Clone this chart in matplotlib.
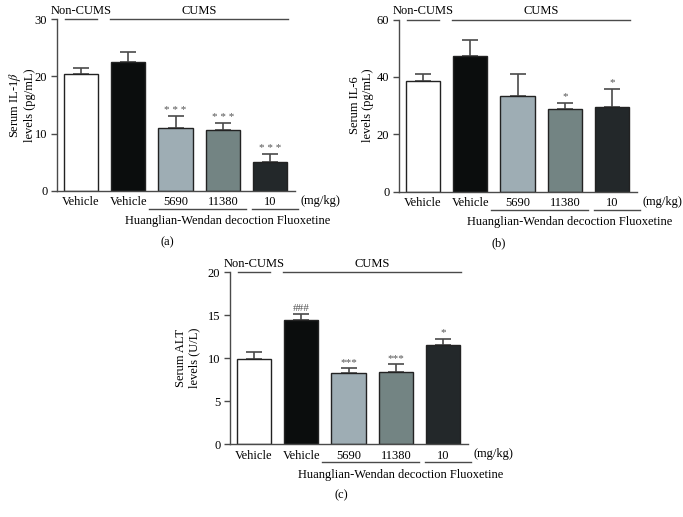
import numpy as np
import matplotlib.pyplot as plt

plt.rcParams["font.family"] = ["Liberation Serif", "DejaVu Serif"]
plt.rcParams["mathtext.fontset"] = "stix"

# ---------------------------------------------------------
# Data
# ---------------------------------------------------------
groups = ["Vehicle", "Vehicle", "5690", "11380", "10"]
bar_colors = ["#ffffff", "#0b0d0d", "#9eadb4", "#738483", "#23282a"]

il1b = [20.4, 22.5, 10.9, 10.6, 5.1]
il1b_err = [1.1, 1.7, 2.1, 1.2, 1.3]
il1b_sig = ["", "", "* * *", "* * *", "* * *"]

il6 = [38.4, 47.4, 33.3, 28.9, 29.5]
il6_err = [2.7, 5.6, 7.6, 2.0, 6.4]
il6_sig = ["", "", "", "*", "*"]

alt = [9.9, 14.4, 8.3, 8.4, 11.6]
alt_err = [0.8, 0.75, 0.55, 0.9, 0.65]
alt_sig = ["", "###", "***", "***", "*"]

W, H = 683, 517
FS = 9
GRAY = "#4a4a4a"


def draw_panel(rect, vals, errs, sig, ymax, yticks, ylabel, letter,
               label_px, letter_x):
    ax = fig.add_axes(rect)
    x = np.arange(len(vals))
    ax.bar(x, vals, width=0.72, color=bar_colors, edgecolor="#222222",
           linewidth=1.0, zorder=2)
    ax.errorbar(x, vals, yerr=[np.zeros(len(vals)), errs], fmt="none",
                ecolor=GRAY, elinewidth=1.2, capsize=6, capthick=1.2, zorder=1)
    for xi, v, e, s in zip(x, vals, errs, sig):
        if s:
            ax.annotate(s, (xi, v + e), xytext=(0, 1), textcoords="offset points",
                        ha="center", va="bottom", fontsize=8, color="#555555")

    ax.set_xlim(-0.5, 4.52)
    ax.set_ylim(0, ymax)
    ax.set_yticks(yticks)
    ax.set_xticks(x)
    ax.set_xticklabels(groups, fontsize=FS)
    ax.tick_params(axis="x", length=0, pad=4)
    ax.tick_params(axis="y", length=4, width=1, color=GRAY, labelsize=FS, pad=3)
    for side in ["top", "right"]:
        ax.spines[side].set_visible(False)
    for side in ["left", "bottom"]:
        ax.spines[side].set_color(GRAY)
        ax.spines[side].set_linewidth(1)

    ax.set_ylabel(ylabel, fontsize=FS, linespacing=1.15)
    ax_w_px = rect[2] * W
    ax.yaxis.set_label_coords(-label_px / ax_w_px, 0.5)

    # group brackets on top
    tr = ax.get_xaxis_transform()
    ax.plot([-0.34, 0.35], [1, 1], color=GRAY, lw=1, transform=tr, clip_on=False)
    ax.plot([0.62, 4.38], [1, 1], color=GRAY, lw=1, transform=tr, clip_on=False)
    ax.annotate("Non-CUMS", (0.0, 1), xycoords=tr, xytext=(0, 6),
                textcoords="offset points", ha="center", va="center", fontsize=FS)
    ax.annotate("CUMS", (2.5, 1), xycoords=tr, xytext=(0, 6),
                textcoords="offset points", ha="center", va="center", fontsize=FS)

    # treatment lines below the axis
    line_y = -18 / (rect[3] * H)
    ax.plot([1.44, 3.49], [line_y, line_y], color=GRAY, lw=1, transform=tr,
            clip_on=False)
    ax.plot([3.62, 4.59], [line_y, line_y], color=GRAY, lw=1, transform=tr,
            clip_on=False)
    ax.annotate("(mg/kg)", (4.63, 0), xycoords=tr, xytext=(0, -7.3),
                textcoords="offset points", ha="left", va="center", fontsize=FS)
    ax.annotate("Huanglian-Wendan decoction Fluoxetine", (3.1, 0), xycoords=tr,
                xytext=(0, -22), textcoords="offset points", ha="center",
                va="center", fontsize=FS)
    ax.annotate(letter, (letter_x, 0), xycoords=tr, xytext=(0, -37),
                textcoords="offset points", ha="center", va="center", fontsize=FS)
    return ax


fig = plt.figure(figsize=(W / 100, H / 100), dpi=100)

draw_panel([57 / W, 1 - 190.7 / H, 238 / W, 171.4 / H], il1b, il1b_err, il1b_sig,
           30, [0, 10, 20, 30], "Serum IL-1$\\beta$\nlevels (pg/mL)", "(a)", 21, 1.83)
draw_panel([399 / W, 1 - 191.5 / H, 238 / W, 172 / H], il6, il6_err, il6_sig,
           60, [0, 20, 40, 60], "Serum IL-6\nlevels (pg/mL)", "(b)", 25, 1.6)
draw_panel([230 / W, 1 - 444.3 / H, 238 / W, 172 / H], alt, alt_err, alt_sig,
           20, [0, 5, 10, 15, 20], "Serum ALT\nlevels (U/L)", "(c)", 30, 1.85)

fig.savefig("out.png", dpi=100)
